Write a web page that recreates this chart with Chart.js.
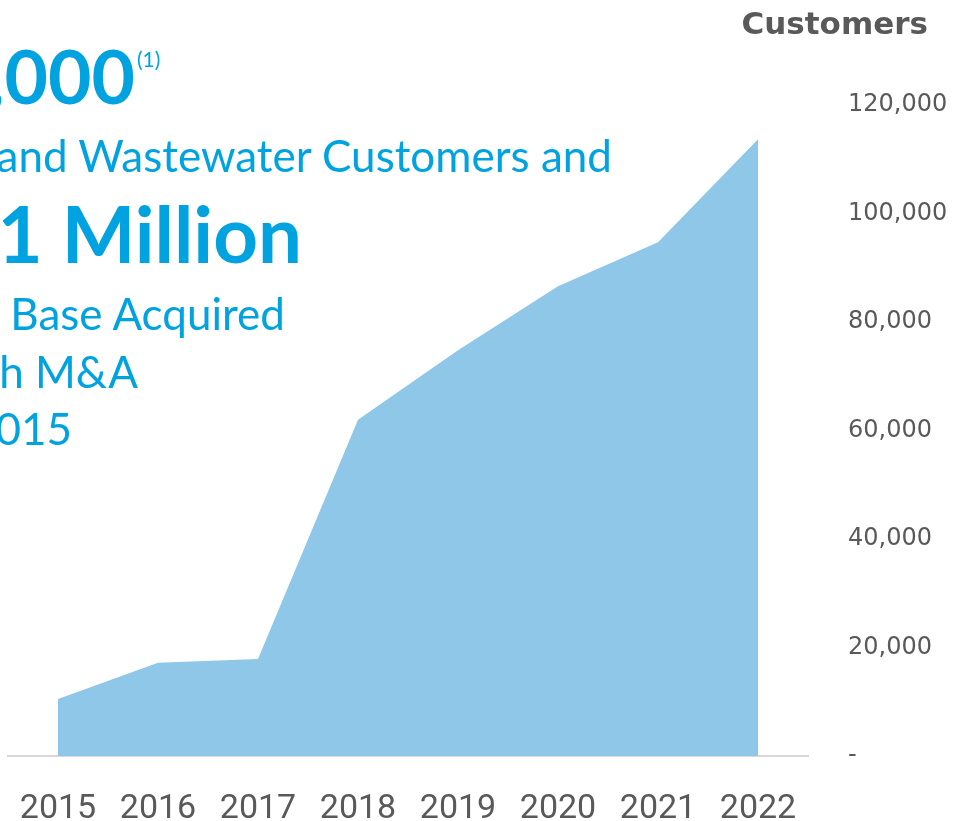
<!DOCTYPE html>
<html>
<head>
<meta charset="utf-8">
<script src="https://cdn.jsdelivr.net/npm/chart.js@4"></script>
<style>
  html, body { margin: 0; padding: 0; background: #fff; overflow: hidden; }
  #wrap { position: relative; width: 954px; height: 821px; overflow: hidden; }
  canvas { position: absolute; left: 0; top: 0; }
  .txt { position: absolute; white-space: nowrap; color: #00a3e0; font-family: Lato, sans-serif; line-height: 1; }
  .big { font-weight: bold; }
  .title { position: absolute; right: 26px; top: 5px; font-family: "DejaVu Sans", sans-serif; font-weight: bold; font-size: 31px; color: #595959; white-space: nowrap; }
</style>
</head>
<body>
<div id="wrap">
  <canvas id="grafica" width="954" height="821"></canvas>
  <div class="title">Customers</div>
  <div class="txt big" style="right:819px; top:38px; font-size:75px;">,000</div>
  <div class="txt big" style="left:137px; top:48px; font-size:21px; font-weight:normal;">(1)</div>
  <div class="txt" style="right:342px; top:133px; font-size:44px;">and Wastewater Customers and</div>
  <div class="txt big" style="right:652px; top:194px; font-size:78px;">1 Million</div>
  <div class="txt" style="right:669px; top:291px; font-size:44px;">Base Acquired</div>
  <div class="txt" style="right:816px; top:349px; font-size:44px;">h M&amp;A</div>
  <div class="txt" style="right:882px; top:406px; font-size:44px;">015</div>
</div>
<script>
const years = ['2015', '2016', '2017', '2018', '2019', '2020', '2021', '2022'];
const customers = [10500, 17200, 17900, 62000, 74800, 86600, 94700, 113700];
const yTicks = [0, 20000, 40000, 60000, 80000, 100000, 120000];

const ctx = document.getElementById('grafica');

new Chart(ctx, {
  type: 'line',
  data: {
    labels: years,
    datasets: [{
      data: customers,
      fill: 'origin',
      backgroundColor: '#8fc7e8',
      borderColor: '#8fc7e8',
      borderWidth: 0,
      pointRadius: 0,
      tension: 0
    }]
  },
  options: {
    responsive: false,
    devicePixelRatio: 1,
    animation: false,
    layout: { padding: { left: 8, top: 105, right: 0, bottom: 0 } },
    plugins: { legend: { display: false }, tooltip: { enabled: false } },
    scales: {
      x: {
        offset: true,
        grid: { display: false },
        border: { display: true, color: '#d9d9d9', width: 2 },
        ticks: {
          color: '#595959',
          font: { family: 'Roboto', size: 34 },
          padding: 25,
          maxRotation: 0
        },
        afterFit: (scale) => {
          scale.height = 65;
          scale.paddingLeft = 0;
          scale.paddingRight = 0;
        }
      },
      y: {
        position: 'right',
        min: 0,
        max: 120000,
        grid: { display: false },
        border: { display: false },
        afterBuildTicks: (scale) => { scale.ticks = yTicks.map(v => ({ value: v })); },
        ticks: {
          color: '#595959',
          font: { family: 'DejaVu Sans', size: 24 },
          padding: 32,
          callback: (v) => v === 0 ? '-' : v.toLocaleString('en-US')
        },
        afterFit: (scale) => { scale.width = 146; }
      }
    }
  }
});
</script>
</body>
</html>
